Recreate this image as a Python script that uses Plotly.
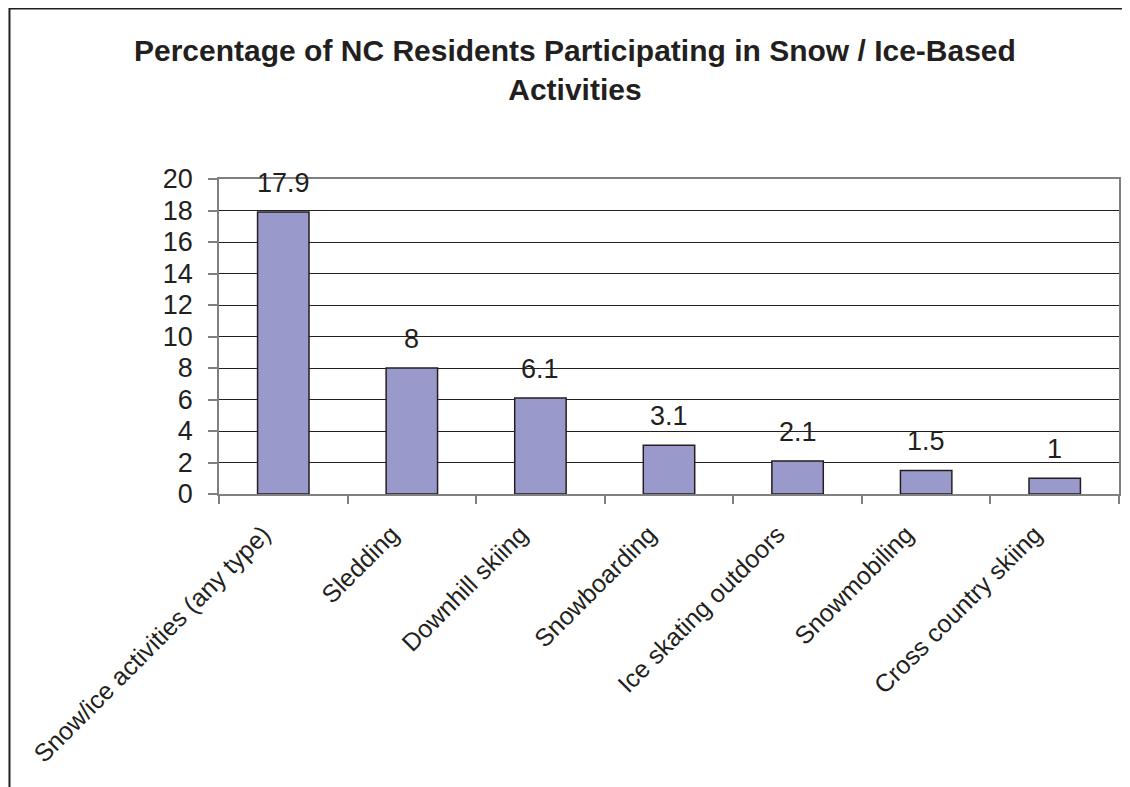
import plotly.graph_objects as go

# participation by activity (percent of NC residents)
activities = [
    "Snow/ice activities (any type)",
    "Sledding",
    "Downhill skiing",
    "Snowboarding",
    "Ice skating outdoors",
    "Snowmobiling",
    "Cross country skiing",
]
percent = [17.9, 8, 6.1, 3.1, 2.1, 1.5, 1]
y_ticks = [0, 2, 4, 6, 8, 10, 12, 14, 16, 18, 20]

title = "Percentage of NC Residents Participating in Snow / Ice-Based<br>Activities"

fig = go.Figure()

fig.add_trace(go.Bar(
    x = activities, y = percent, width = 0.4,
    marker = dict(color = '#9999CC', line = dict(color = '#231F20', width = 1.5)),
    hoverinfo = 'x+y', showlegend = False))

for a, p in zip(activities, percent):
    fig.add_annotation(x = a, y = p, text = f"{p:g}", showarrow = False,
                       yanchor = 'bottom', yshift = 12, font = dict(size = 27))

# outer chart frame (runs off the right and bottom of the picture)
fig.add_shape(type = 'rect', xref = 'paper', yref = 'paper',
              x0 = -0.2328, x1 = 1.05, y0 = -0.97, y1 = 1.5413,
              line = dict(color = '#231F20', width = 2))

fig.update_layout(
    width = 1122, height = 779,
    margin = dict(l = 211, r = 9, t = 171, b = 293),
    paper_bgcolor = 'white', plot_bgcolor = 'white',
    font = dict(family = 'Liberation Sans, Arial, sans-serif', color = '#231F20'),
    title = dict(text = title, x = 0.5053, xanchor = 'center', xref = 'container',
                 y = 1 - 53 / 779, yanchor = 'top', yref = 'container',
                 font = dict(size = 30, weight = 'bold', color = '#231F20')),
)

fig.update_xaxes(tickangle = -45, tickfont = dict(size = 25), ticks = 'outside',
                 tickson = 'boundaries', ticklen = 8, tickcolor = '#808080', tickwidth = 1.5,
                 ticklabelstandoff = 14, ticklabelshift = -20,
                 showline = True, linecolor = '#808080', linewidth = 1.5, mirror = True,
                 showgrid = False)
fig.update_yaxes(range = [0, 20], tickvals = y_ticks, tickfont = dict(size = 27),
                 ticks = 'outside', ticklen = 9, tickcolor = '#808080', tickwidth = 1.5,
                 ticklabelstandoff = 10,
                 showline = True, linecolor = '#808080', linewidth = 1.5, mirror = True,
                 showgrid = True, gridcolor = '#231F20', gridwidth = 1, zeroline = False)

fig.write_html("out.html")
